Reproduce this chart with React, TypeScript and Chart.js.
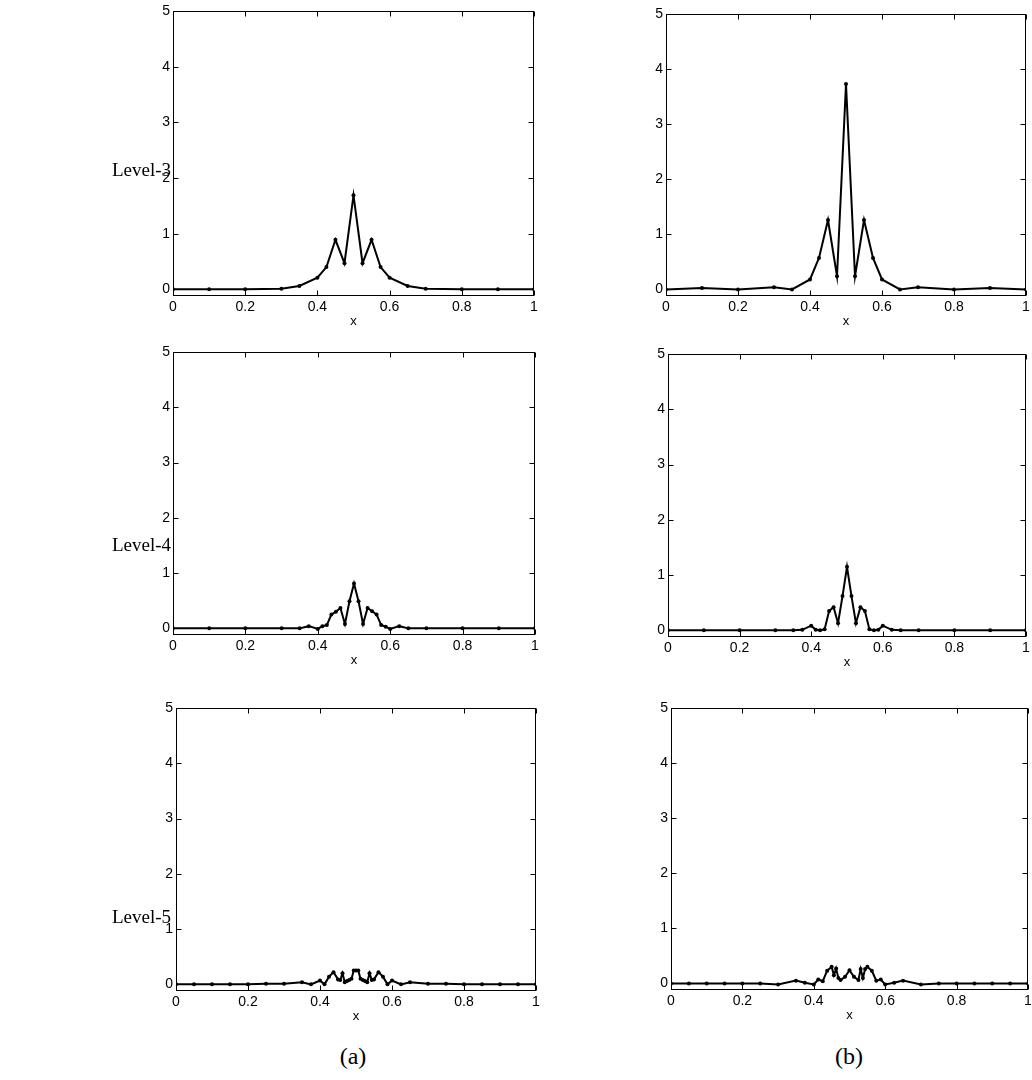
import React, { useEffect, useRef } from "react";
import { Chart, registerables } from "chart.js";

Chart.register(...registerables);

// ---------- data ----------
const xTickValues = [0, 0.2, 0.4, 0.6, 0.8, 1];
const xTickLabels = ["0", "0.2", "0.4", "0.6", "0.8", "1"];
const yTickValues = [0, 1, 2, 3, 4, 5];
const yTickLabels = ["0", "1", "2", "3", "4", "5"];
const rowLabels = ["Level-3", "Level-4", "Level-5"];
const columnLabels = ["(a)", "(b)"];
const axisTitle = "x";

const level3aX = [0, 0.1, 0.2, 0.3, 0.35, 0.4, 0.425, 0.45, 0.475, 0.5, 0.525, 0.55, 0.575, 0.6, 0.65, 0.7, 0.8, 0.9, 1];
const level3aY = [0, 0, 0, 0.01, 0.06, 0.21, 0.4, 0.89, 0.47, 1.69, 0.47, 0.89, 0.4, 0.21, 0.06, 0.01, 0, 0, 0];

const level3bX = [0, 0.1, 0.2, 0.3, 0.35, 0.4, 0.425, 0.45, 0.475, 0.5, 0.525, 0.55, 0.575, 0.6, 0.65, 0.7, 0.8, 0.9, 1];
const level3bY = [0, 0.025, 0, 0.04, 0, 0.18, 0.57, 1.26, 0.24, 3.73, 0.24, 1.26, 0.57, 0.18, 0, 0.04, 0, 0.025, 0];

const level4aX = [0, 0.1, 0.2, 0.3, 0.35, 0.375, 0.4, 0.4125, 0.425, 0.4375, 0.45, 0.4625, 0.475, 0.4875, 0.5, 0.5125, 0.525, 0.5375, 0.55, 0.5625, 0.575, 0.5875, 0.6, 0.625, 0.65, 0.7, 0.8, 0.9, 1];
const level4aY = [0, 0, 0, 0, 0, 0.04, -0.01, 0.04, 0.06, 0.25, 0.3, 0.37, 0.08, 0.49, 0.81, 0.49, 0.08, 0.37, 0.31, 0.25, 0.06, 0.03, -0.01, 0.04, 0, 0, 0, 0, 0];

const level4bX = [0, 0.1, 0.2, 0.3, 0.35, 0.375, 0.4, 0.4125, 0.425, 0.4375, 0.45, 0.4625, 0.475, 0.4875, 0.5, 0.5125, 0.525, 0.5375, 0.55, 0.5625, 0.575, 0.5875, 0.6, 0.625, 0.65, 0.7, 0.8, 0.9, 1];
const level4bY = [0, 0, 0, 0, 0, 0.01, 0.085, 0.01, 0, 0.02, 0.35, 0.42, 0.13, 0.62, 1.15, 0.62, 0.13, 0.42, 0.35, 0.02, 0, 0.01, 0.085, 0.01, 0, 0, 0, 0, 0];

const level5aX = [0, 0.05, 0.1, 0.15, 0.2, 0.25, 0.3, 0.35, 0.375, 0.4, 0.4125, 0.425, 0.4375, 0.45, 0.4563, 0.4625, 0.4688, 0.475, 0.4813, 0.4875, 0.4938, 0.5, 0.5063, 0.5125, 0.5188, 0.525, 0.5313, 0.5375, 0.5438, 0.55, 0.5625, 0.575, 0.5875, 0.6, 0.625, 0.65, 0.7, 0.75, 0.8, 0.85, 0.9, 0.95, 1];
const level5aY = [0, 0, 0, 0, 0, 0.01, 0.01, 0.04, 0, 0.07, 0, 0.14, 0.22, 0.09, 0.08, 0.2, 0.04, 0.06, 0.08, 0.1, 0.25, 0.25, 0.25, 0.1, 0.08, 0.06, 0.04, 0.2, 0.08, 0.09, 0.22, 0.14, 0, 0.07, 0, 0.04, 0.01, 0.01, 0, 0, 0, 0, 0];

const level5bX = [0, 0.05, 0.1, 0.15, 0.2, 0.25, 0.3, 0.35, 0.375, 0.4, 0.4125, 0.425, 0.4375, 0.45, 0.4563, 0.4625, 0.4688, 0.475, 0.4875, 0.5, 0.5125, 0.525, 0.5313, 0.5375, 0.5438, 0.55, 0.5625, 0.575, 0.5875, 0.6, 0.625, 0.65, 0.7, 0.75, 0.8, 0.85, 0.9, 0.95, 1];
const level5bY = [0, 0, 0, 0, 0, 0, -0.02, 0.05, 0.01, -0.02, 0.07, 0.04, 0.23, 0.3, 0.15, 0.27, 0.1, 0.06, 0.12, 0.24, 0.12, 0.06, 0.26, 0.1, 0.26, 0.3, 0.23, 0.05, 0.07, -0.02, 0.01, 0.05, -0.02, 0, 0, 0, 0, 0, 0];

const yMin = -0.12;
const yMax = 5;

// ---------- layout (plot boxes in page pixels) ----------
const PAGE_W = 1032;
const PAGE_H = 1080;
const Y_AXIS_W = 35;
const X_AXIS_H = 37;
const PAD_T = 10;
const PAD_B = 3;

const panels = [
  { xs: level3aX, ys: level3aY, L: 173, T: 11, R: 534, B: 296 },
  { xs: level3bX, ys: level3bY, L: 666, T: 14, R: 1026, B: 296 },
  { xs: level4aX, ys: level4aY, L: 173, T: 352, R: 535, B: 635 },
  { xs: level4bX, ys: level4bY, L: 668, T: 354, R: 1026, B: 637 },
  { xs: level5aX, ys: level5aY, L: 176, T: 708, R: 536, B: 991 },
  { xs: level5bX, ys: level5bY, L: 671, T: 708, R: 1030, B: 990 },
];

const rowLabelPos = [
  { x: 112, y: 170 },
  { x: 112, y: 545 },
  { x: 112, y: 917 },
];
const colLabelPos = [
  { x: 353, y: 1056 },
  { x: 849, y: 1056 },
];

const sansFamily = "'Liberation Sans', Arial, Helvetica, sans-serif";
const serifFamily = "'Liberation Serif', 'Times New Roman', Times, serif";

const framePlugin = {
  id: "matlabFrame",
  afterDraw(chart: any) {
    const { ctx, chartArea: a, scales } = chart;
    const l = Math.round(a.left) + 0.5;
    const r = Math.round(a.right) - 0.5;
    const t = Math.round(a.top) + 0.5;
    const b = Math.round(a.bottom) - 0.5;
    const tl = 5;
    ctx.save();
    ctx.strokeStyle = "#000";
    ctx.lineWidth = 1;
    ctx.strokeRect(l, t, r - l, b - t);
    ctx.beginPath();
    for (const v of xTickValues) {
      const px = Math.round(scales.x.getPixelForValue(v)) + 0.5;
      ctx.moveTo(px, b);
      ctx.lineTo(px, b - tl);
      ctx.moveTo(px, t);
      ctx.lineTo(px, t + tl);
    }
    for (const v of yTickValues) {
      const py = Math.round(scales.y.getPixelForValue(v)) + 0.5;
      ctx.moveTo(l, py);
      ctx.lineTo(l + tl, py);
      ctx.moveTo(r, py);
      ctx.lineTo(r - tl, py);
    }
    ctx.stroke();
    ctx.restore();
  },
};

function Panel({ xs, ys, L, T, R, B }: any) {
  const ref = useRef<HTMLCanvasElement | null>(null);
  const padR = Math.min(10, PAGE_W - R);
  const left = L - Y_AXIS_W;
  const top = T - PAD_T;
  const width = R - L + Y_AXIS_W + padR;
  const height = B - T + PAD_T + X_AXIS_H + PAD_B;

  useEffect(() => {
    if (!ref.current) return;
    const chart = new Chart(ref.current, {
      type: "line",
      data: {
        datasets: [
          {
            data: xs.map((x: number, i: number) => ({ x, y: ys[i] })),
            borderColor: "#000",
            borderWidth: 2,
            pointRadius: 2,
            pointBackgroundColor: "#000",
            pointBorderColor: "#000",
            pointBorderWidth: 0,
            tension: 0,
            fill: false,
          },
        ],
      },
      options: {
        animation: false,
        responsive: false,
        maintainAspectRatio: false,
        events: [],
        layout: { padding: { left: 0, top: PAD_T, right: padR, bottom: PAD_B } },
        plugins: { legend: { display: false }, tooltip: { enabled: false } },
        scales: {
          x: {
            type: "linear",
            min: 0,
            max: 1,
            grid: { display: false, drawTicks: false },
            border: { display: false },
            afterBuildTicks: (s: any) => {
              s.ticks = xTickValues.map((v) => ({ value: v }));
            },
            ticks: {
              padding: 3,
              color: "#000",
              autoSkip: false,
              maxRotation: 0,
              font: { family: sansFamily, size: 14 },
              callback: (_v: any, i: number) => xTickLabels[i],
            },
            title: {
              display: true,
              text: axisTitle,
              color: "#000",
              padding: { top: 0, bottom: 4 },
              font: { family: sansFamily, size: 13 },
            },
            afterFit: (s: any) => {
              s.height = X_AXIS_H;
              s.paddingLeft = 0;
              s.paddingRight = 0;
            },
          },
          y: {
            type: "linear",
            min: yMin,
            max: yMax,
            grid: { display: false, drawTicks: false },
            border: { display: false },
            afterBuildTicks: (s: any) => {
              s.ticks = yTickValues.map((v) => ({ value: v }));
            },
            ticks: {
              padding: 3,
              color: "#000",
              autoSkip: false,
              font: { family: sansFamily, size: 14 },
              callback: (_v: any, i: number) => yTickLabels[i],
            },
            afterFit: (s: any) => {
              s.width = Y_AXIS_W;
              s.paddingTop = 0;
              s.paddingBottom = 0;
            },
          },
        },
      },
      plugins: [framePlugin],
    } as any);
    return () => chart.destroy();
  }, [xs, ys]);

  return (
    <canvas
      ref={ref}
      width={width}
      height={height}
      style={{ position: "absolute", left, top, width, height, display: "block" }}
    />
  );
}

export default function App() {
  return (
    <div
      style={{
        position: "absolute",
        left: 0,
        top: 0,
        width: PAGE_W,
        height: PAGE_H,
        overflow: "hidden",
        background: "#fff",
      }}
    >
      {panels.map((p, i) => (
        <Panel key={i} {...p} />
      ))}
      {rowLabels.map((t, i) => (
        <div
          key={t}
          style={{
            position: "absolute",
            left: rowLabelPos[i].x,
            top: rowLabelPos[i].y,
            transform: "translateY(-50%)",
            fontFamily: serifFamily,
            fontSize: 19,
            lineHeight: "22px",
            color: "#000",
            whiteSpace: "nowrap",
          }}
        >
          {t}
        </div>
      ))}
      {columnLabels.map((t, i) => (
        <div
          key={t}
          style={{
            position: "absolute",
            left: colLabelPos[i].x,
            top: colLabelPos[i].y,
            transform: "translate(-50%, -50%)",
            fontFamily: serifFamily,
            fontSize: 24,
            lineHeight: "28px",
            color: "#000",
            whiteSpace: "nowrap",
          }}
        >
          {t}
        </div>
      ))}
    </div>
  );
}
